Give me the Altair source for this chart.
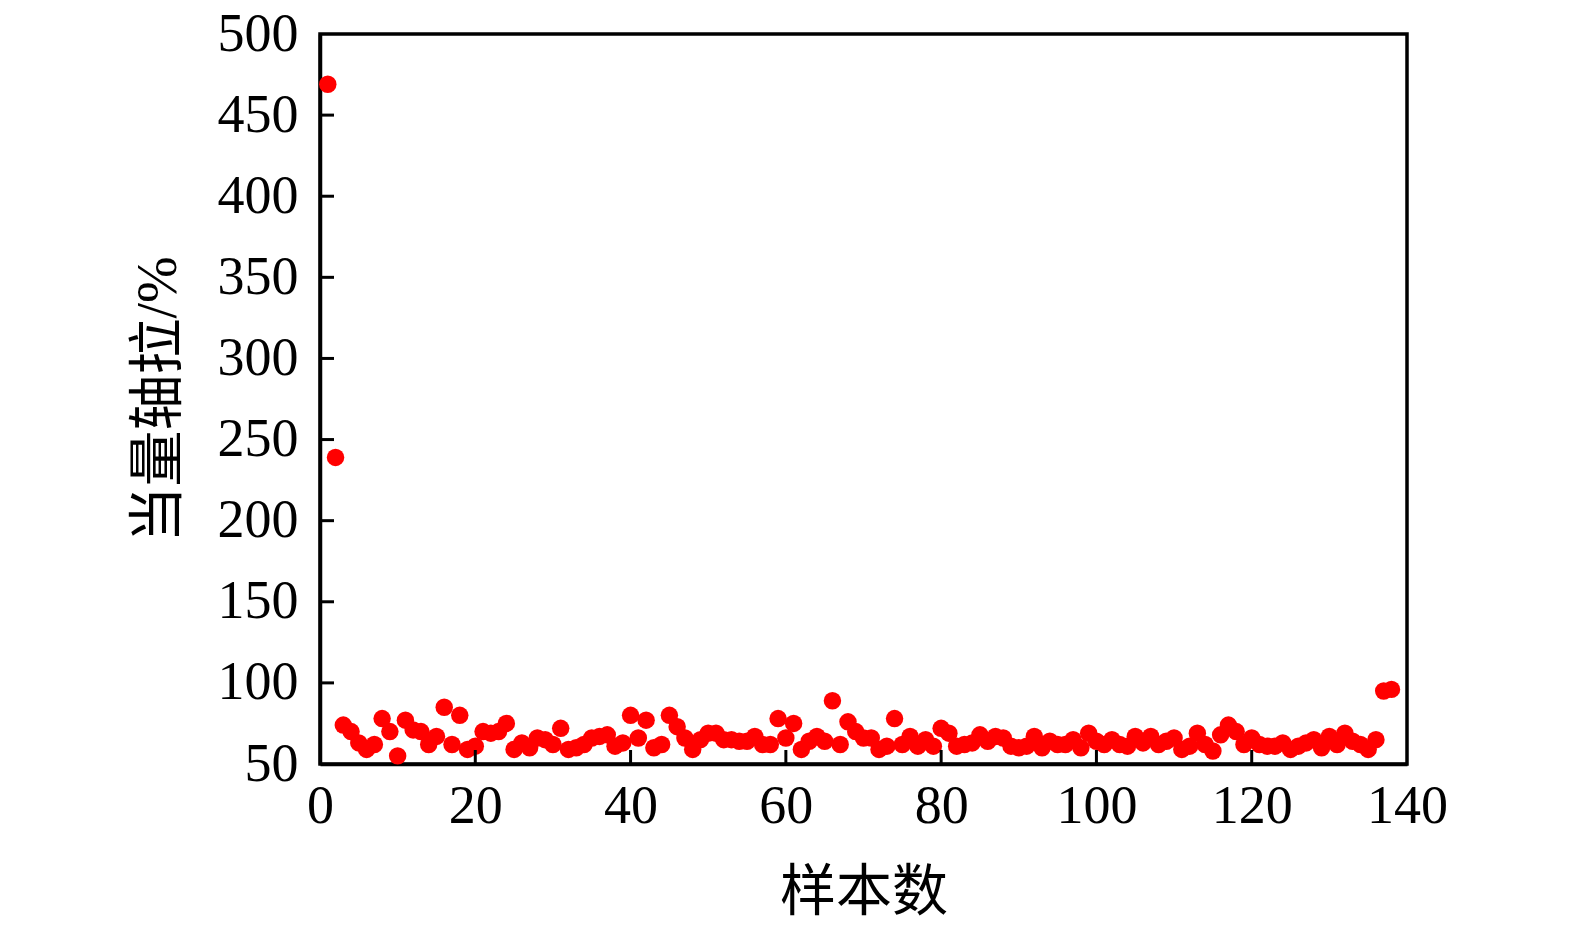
import altair as alt
import pandas as pd

samples = list(range(1, 139))
values = [
    469, 239, 74, 70, 63, 59, 62, 78, 70, 55,
    77, 71, 70, 62, 67, 85, 62, 80, 59, 61,
    70, 69, 70, 75, 59, 63, 60, 66, 65, 62,
    72, 59, 60, 62, 66, 67, 68, 61, 63, 80,
    66, 77, 60, 62, 80, 73, 66, 59, 65, 69,
    69, 65, 65, 64, 64, 67, 62, 62, 78, 66,
    75, 59, 64, 67, 64, 89, 62, 76, 70, 66,
    66, 59, 61, 78, 62, 67, 61, 65, 61, 72,
    69, 61, 62, 63, 68, 64, 67, 66, 61, 60,
    61, 67, 60, 64, 62, 62, 65, 60, 69, 64,
    62, 65, 62, 61, 67, 63, 67, 62, 64, 66,
    59, 61, 69, 62, 58, 68, 74, 70, 62, 66,
    62, 61, 61, 63, 59, 61, 63, 65, 60, 67,
    62, 69, 64, 62, 59, 65, 95, 96,
]
x_ticks = [0, 20, 40, 60, 80, 100, 120, 140]
y_ticks = [50, 100, 150, 200, 250, 300, 350, 400, 450, 500]

df = pd.DataFrame({"n": samples, "v": values})
W, H = 1087, 730
FONT = "Liberation Serif, Times New Roman, Noto Sans CJK SC"

xs = alt.Scale(domain=[0, 140], nice=False)
ys = alt.Scale(domain=[50, 500], nice=False)

points = alt.Chart(df).mark_circle(size=305, color="#ff0000", opacity=1).encode(
    x=alt.X("n:Q", scale=xs, title="样本数",
            axis=alt.Axis(values=x_ticks, tickSize=0, labelPadding=15,
                          labelFlush=False, titlePadding=32, grid=False)),
    y=alt.Y("v:Q", scale=ys, title="当量轴拉/%",
            axis=alt.Axis(values=y_ticks, tickSize=0, labelPadding=22,
                          labelFlush=False, titlePadding=30, grid=False)),
)

xt = pd.DataFrame({"t": x_ticks[1:-1]})
yt = pd.DataFrame({"t": y_ticks[1:-1]})

xtick_layer = alt.Chart(xt).mark_rule(color="black", strokeWidth=3).encode(
    x=alt.X("t:Q", scale=xs),
    y=alt.value(H), y2=alt.value(H - 14),
)
ytick_layer = alt.Chart(yt).mark_rule(color="black", strokeWidth=3).encode(
    y=alt.Y("t:Q", scale=ys),
    x=alt.value(0), x2=alt.value(14),
)

chart = alt.layer(points, xtick_layer, ytick_layer).properties(
    width=W, height=H,
    autosize="none",
    background="white",
    padding={"left": 312, "top": 26, "right": 80, "bottom": 154},
).configure_view(
    stroke="black", strokeWidth=3.5
).configure_axis(
    domainColor="black", domainWidth=3.5,
    labelFont=FONT, labelFontSize=54, labelColor="black",
    titleFont=FONT, titleFontSize=56, titleColor="black",
    titleFontWeight="normal",
)

chart.save("out.html", embed_options={"renderer": "svg", "actions": False})
